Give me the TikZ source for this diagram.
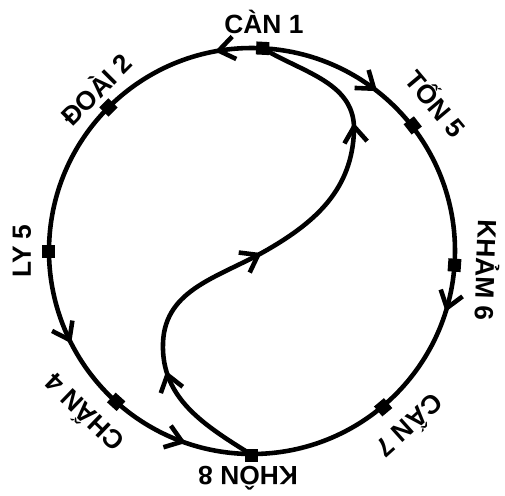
\documentclass[tikz,border=0pt]{standalone}
\usepackage{fontspec}
\setmainfont{Liberation Sans}
\usetikzlibrary{arrows.meta, positioning, decorations.markings}

\begin{document}
\begin{tikzpicture}[
    x=0.02cm, y=0.02cm,
    line width=2.6pt,
    hub/.style={rectangle, fill=black, inner sep=0pt, minimum size=0.26cm},
    gua/.style={font=\fontsize{15}{18}\selectfont\bfseries, inner sep=0pt},
    flow/.style={postaction={decorate, decoration={markings,
        mark=at position #1 with {\arrow{Straight Barb[length=9pt, width=13pt]}}}}}
]
    \useasboundingbox (-252,-244) rectangle (253,251);

    % 卦位
    \node[hub, rotate=87] (can) at (87:203) {};
    \node[hub, rotate=135] (doai) at (135:203) {};
    \node[hub, rotate=180] (ly) at (180:203) {};
    \node[hub, rotate=228] (chan) at (228:203) {};
    \node[hub, rotate=270] (khon) at (270:204) {};
    \node[hub, rotate=310] (canb) at (310:204) {};
    \node[hub, rotate=356] (kham) at (356:203) {};
    \node[hub, rotate=38] (ton) at (38:204) {};

    % 卦名
    \node[gua] (lcan) at (87:229) {CÀN 1};
    \node[gua, rotate=45] (ldoai) at (134:226) {ĐOÀI 2};
    \node[gua, rotate=90] (lly) at (180:230) {LY 5};
    \node[gua, rotate=136] (lchan) at (224:235) {CHẤN 4};
    \node[gua, rotate=180] (lkhon) at (269:227) {KHÔN 8};
    \node[gua, rotate=222] (lcanb) at (-48:237) {CẤN 7};
    \node[gua, rotate=-92] (lkham) at (-4.6:237) {KHẢM 6};
    \node[gua, rotate=-50] (lton) at (38.7:237) {TỐN 5};

    % 圆弧（带箭头）
    \draw[flow=0.074, flow=0.656, flow=0.896] (can.center) arc[start angle=87, end angle=270, radius=203];
    \draw[flow=0.198, flow=0.59] (can.center) arc[start angle=87, end angle=-90, radius=203];

    % S 形曲线
    \draw[flow=0.21, flow=0.5, flow=0.79] (khon.center) to[out=148, in=-92] (-89,-92)
        to[out=88, in=-150] (15,1) to[out=30, in=-92] (102,120) to[out=88, in=-31] (can.center);
\end{tikzpicture}
\end{document}
